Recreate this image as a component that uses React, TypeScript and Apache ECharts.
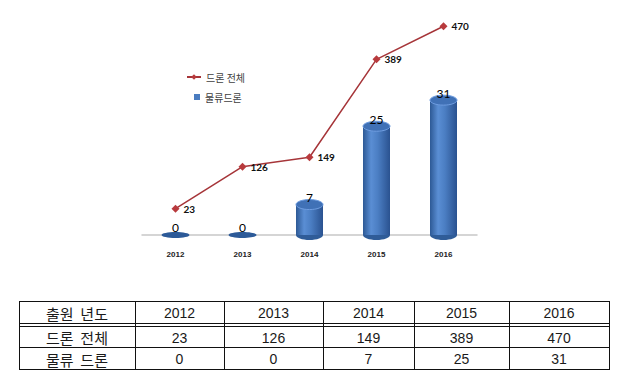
import React, { useEffect, useRef } from "react";
import * as echarts from "echarts";

// ---- data ----
const years = ["2012", "2013", "2014", "2015", "2016"];
const droneTotal = [23, 126, 149, 389, 470];
const logisticsDrone = [0, 0, 7, 25, 31];
const lineName = "드론 전체";
const barName = "물류드론";
const tableHeaderLabel = "출원 년도";
const tableRowLabels = ["드론 전체", "물류 드론"];

// ---- layout ----
const colEdges = [19, 135, 224, 323, 414, 509, 609];
const rowTop = 301;
const headerBottom = 323;
const headerBottom2 = 326;
const row2Bottom = 347;
const tableBottom = 369;

function buildTable(): any[] {
  const els: any[] = [];
  const L = colEdges[0];
  const R = colEdges[colEdges.length - 1];
  const hl = (y: number, w = 1) => ({
    type: "line",
    shape: { x1: L, y1: y + 0.5, x2: R, y2: y + 0.5 },
    style: { stroke: "#111", lineWidth: w },
  });
  els.push(hl(rowTop));
  els.push(hl(headerBottom));
  els.push(hl(headerBottom2));
  els.push(hl(row2Bottom));
  els.push(hl(tableBottom));
  colEdges.forEach((x) => {
    els.push({
      type: "line",
      shape: { x1: x + 0.5, y1: rowTop, x2: x + 0.5, y2: tableBottom + 1 },
      style: { stroke: "#111", lineWidth: 1 },
    });
  });
  const rowsCenters = [
    (rowTop + headerBottom) / 2 + 1,
    (headerBottom2 + row2Bottom) / 2 + 1,
    (row2Bottom + tableBottom) / 2 + 1,
  ];
  const rows: string[][] = [
    [tableHeaderLabel, ...years],
    [tableRowLabels[0], ...droneTotal.map(String)],
    [tableRowLabels[1], ...logisticsDrone.map(String)],
  ];
  rows.forEach((row, ri) => {
    row.forEach((txt, ci) => {
      const cx = (colEdges[ci] + colEdges[ci + 1]) / 2;
      const isKo = ci === 0;
      els.push({
        type: "text",
        x: cx,
        y: rowsCenters[ri],
        style: {
          text: isKo ? txt.replace(" ", "  ") : txt,
          align: "center",
          verticalAlign: "middle",
          fontSize: isKo ? 15 : 14,
          fontFamily: isKo ? "Noto Sans CJK KR" : "Liberation Sans",
          fill: "#1a1a1a",
        },
      });
    });
  });
  return els;
}

export default function App() {
  const ref = useRef<HTMLDivElement>(null);
  useEffect(() => {
    if (!ref.current) return;
    const chart = echarts.init(ref.current, undefined, { renderer: "svg" });
    const bodyGrad = new echarts.graphic.LinearGradient(0, 0, 1, 0, [
      { offset: 0, color: "#2d5995" },
      { offset: 0.3, color: "#5a8ed4" },
      { offset: 0.55, color: "#4b7ec3" },
      { offset: 1, color: "#2a5290" },
    ]);
    const option: any = {
      animation: false,
      backgroundColor: "#fff",
      textStyle: { fontFamily: "Noto Sans CJK KR" },
      legend: [
        {
          data: [{ name: lineName }],
          left: 181,
          top: 67,
          itemWidth: 14,
          itemHeight: 7,
          itemGap: 4,
          textStyle: { fontSize: 10, color: "#404040", fontFamily: "Noto Sans CJK KR" },
        },
        {
          data: [{ name: barName, icon: "rect" }],
          left: 189,
          top: 87,
          itemWidth: 6,
          itemHeight: 6,
          textStyle: { fontSize: 10, color: "#404040", fontFamily: "Noto Sans CJK KR" },
        },
      ],
      grid: { left: 142, width: 335, top: 14, height: 229 },
      xAxis: {
        type: "category",
        data: years,
        axisTick: { show: false },
        axisLine: { lineStyle: { color: "#c8c8c8", width: 1.5 } },
        axisLabel: {
          fontSize: 8,
          fontWeight: "bold",
          color: "#222",
          margin: 7,
          fontFamily: "Liberation Sans",
        },
      },
      yAxis: [
        { type: "value", min: -1.84, max: 50.8, show: false },
        { type: "value", min: -61, max: 500, show: false },
      ],
      series: [
        {
          type: "custom",
          name: barName,
          yAxisIndex: 0,
          data: logisticsDrone.map((v, i) => [i, v]),
          encode: { x: 0, y: 1 },
          itemStyle: { color: "#4a7cc0" },
          renderItem: (params: any, api: any) => {
            const idx = api.value(0);
            const v = api.value(1);
            const top = api.coord([idx, v]);
            const base = api.coord([idx, 0]);
            const cx = base[0];
            const w = 27;
            const rx = w / 2;
            const children: any[] = [];
            if (v === 0) {
              children.push({
                type: "ellipse",
                shape: { cx, cy: base[1], rx: 14, ry: 3 },
                style: { fill: "#2c5a98" },
              });
            } else {
              const ry = 5;
              children.push({
                type: "ellipse",
                shape: { cx, cy: base[1], rx, ry },
                style: { fill: "#2f5c98" },
              });
              children.push({
                type: "rect",
                shape: { x: cx - rx, y: top[1], width: w, height: base[1] - top[1] },
                style: { fill: bodyGrad },
              });
              children.push({
                type: "ellipse",
                shape: { cx, cy: top[1], rx, ry },
                style: { fill: "#4071b6", stroke: "#6f9de0", lineWidth: 1 },
              });
            }
            children.push({
              type: "text",
              x: cx,
              y: top[1] - 7,
              style: {
                text: String(v),
                align: "center",
                verticalAlign: "middle",
                fontSize: 12,
                fill: "#000",
                fontFamily: "Lato",
              },
            });
            return { type: "group", children };
          },
        },
        {
          type: "line",
          name: lineName,
          yAxisIndex: 1,
          data: droneTotal,
          symbol: "diamond",
          symbolSize: 8,
          lineStyle: { color: "#a63539", width: 1.5 },
          itemStyle: { color: "#b83a3d" },
          label: {
            show: true,
            position: "right",
            distance: 4,
            fontSize: 10,
            fontWeight: "bold",
            color: "#111",
            fontFamily: "Lato",
          },
          z: 5,
        },
      ],
      graphic: buildTable(),
    };
    chart.setOption(option);
    return () => chart.dispose();
  }, []);
  return (
    <div
      ref={ref}
      style={{ width: 644, height: 374, position: "absolute", left: 0, top: 0 }}
    />
  );
}
